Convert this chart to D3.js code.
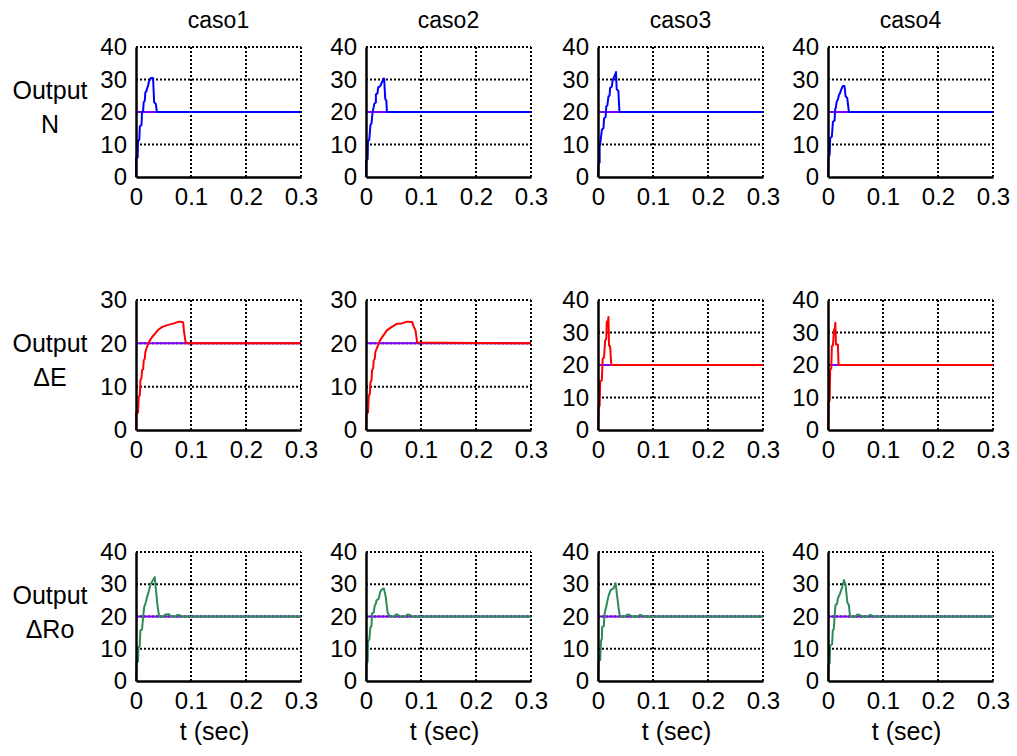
<!DOCTYPE html>
<html>
<head>
<meta charset="utf-8">
<script src="https://cdn.jsdelivr.net/npm/d3@7"></script>
<style>
  html, body { margin: 0; padding: 0; background: #fff; }
  svg { display: block; }
  text { font-family: "Liberation Sans", Arial, sans-serif; fill: #000; }
</style>
</head>
<body>
<svg id="chart" width="1017" height="756"></svg>
<script>
// ---------------- DATA ----------------
const caseTitles = ["caso1", "caso2", "caso3", "caso4"];
const rowLabels = [["Output", "N"], ["Output", "\u0394E"], ["Output", "\u0394Ro"]];
const xTicks = [0, 0.1, 0.2, 0.3];
const xTickLabels = ["0", "0.1", "0.2", "0.3"];
const yTicks40 = [0, 10, 20, 30, 40];
const yTicks30 = [0, 10, 20, 30];
const xLabel = "t (sec)";
const reference = 20;

// Output N (blue) [t, value]
const nCaso1 = [[0,0],[0,5.8],[0.003,6],[0.0036,11],[0.006,11.5],[0.007,15.6],[0.010,16],[0.011,20],[0.013,20.5],[0.014,23],[0.016,23.5],[0.017,26],[0.019,26.5],[0.0206,27.5],[0.022,28],[0.0236,29.5],[0.026,30],[0.027,30.5],[0.031,30.5],[0.033,23],[0.036,22.5],[0.038,20],[0.3,20]];
const nCaso2 = [[0,0],[0,5],[0.003,5.5],[0.0036,11],[0.006,11.5],[0.008,16],[0.010,16.5],[0.012,20],[0.014,21.5],[0.015,22.5],[0.018,23],[0.018,25.4],[0.021,25.8],[0.022,27.5],[0.026,28],[0.029,29.2],[0.032,30.3],[0.033,30.3],[0.035,24],[0.037,23.5],[0.038,20],[0.3,20]];
const nCaso3 = [[0,0],[0.001,4.3],[0.003,4.5],[0.003,9.5],[0.004,10],[0.007,14.6],[0.010,15],[0.011,18],[0.014,18.5],[0.015,21.7],[0.017,22],[0.019,24.8],[0.021,25],[0.022,27.4],[0.025,27.8],[0.027,30],[0.030,31],[0.0327,32.3],[0.034,27],[0.037,26.5],[0.039,20],[0.3,20]];
const nCaso4 = [[0,0],[0.001,6.4],[0.003,6.8],[0.004,12],[0.007,12.4],[0.009,17],[0.012,17.4],[0.013,20.7],[0.014,21.2],[0.016,23.3],[0.018,23.8],[0.020,25.3],[0.022,25.8],[0.024,26.9],[0.027,28],[0.030,28],[0.032,24.8],[0.035,24.3],[0.038,20],[0.3,20]];

// Output ΔE (red)
const eCaso1 = [[0,0],[0,3.8],[0.0037,4],[0.0049,7.7],[0.007,8],[0.008,11.5],[0.010,12],[0.011,13.8],[0.013,14],[0.014,16],[0.016,16.5],[0.017,18],[0.020,19.2],[0.024,20.4],[0.029,21.4],[0.035,22.3],[0.041,23.2],[0.048,23.8],[0.057,24.2],[0.069,24.6],[0.078,25],[0.085,24.9],[0.086,24.6],[0.087,23],[0.090,20.4],[0.092,20],[0.3,20]];
const eCaso2 = [[0,0],[0.0006,3.8],[0.0036,4],[0.005,8],[0.007,8.3],[0.008,11],[0.010,11.4],[0.011,13.8],[0.013,14.2],[0.014,16],[0.016,16.5],[0.017,18],[0.022,19.6],[0.026,20.8],[0.032,21.9],[0.038,23],[0.047,23.8],[0.056,24.5],[0.065,24.6],[0.075,25],[0.084,24.9],[0.087,23.8],[0.090,23],[0.093,20.2],[0.3,20]];
const eCaso3 = [[0,0],[0.001,7.2],[0.003,7.4],[0.004,15],[0.007,15.3],[0.0085,22],[0.011,22.3],[0.013,27.6],[0.015,28],[0.016,33.4],[0.017,32],[0.019,34.8],[0.020,26],[0.022,25.8],[0.024,20.6],[0.025,20],[0.3,20]];
const eCaso4 = [[0,0],[0.001,8.8],[0.003,9],[0.004,18.6],[0.006,19],[0.007,25.8],[0.009,26],[0.011,31],[0.012,30],[0.0134,33],[0.0145,26.3],[0.018,26.3],[0.019,20.6],[0.020,20],[0.3,20]];

// Output ΔRo (green)
const rCaso1 = [[0,0],[0.0006,5.7],[0.0037,6],[0.0043,10.4],[0.0067,10.8],[0.008,15.7],[0.011,16],[0.013,20],[0.015,23],[0.018,24.5],[0.020,26],[0.023,27.7],[0.026,29.8],[0.029,30.8],[0.034,32.2],[0.036,28.7],[0.039,23.5],[0.042,20],[0.050,20],[0.053,20.6],[0.060,20.7],[0.063,20.1],[0.072,20],[0.075,20.5],[0.080,20.4],[0.082,20],[0.3,20]];
const rCaso2 = [[0,0],[0.0006,5.7],[0.003,6],[0.0036,12.5],[0.006,12.8],[0.008,16.7],[0.010,17],[0.011,20.9],[0.014,21.3],[0.016,23.5],[0.018,24],[0.019,25],[0.023,25.5],[0.026,27.7],[0.029,28.4],[0.0325,28.7],[0.036,26],[0.039,21.4],[0.042,20.4],[0.045,20],[0.052,20],[0.054,20.6],[0.057,20.6],[0.062,20],[0.072,20],[0.075,20.6],[0.080,20.5],[0.082,20],[0.3,20]];
const rCaso3 = [[0,0],[0.001,6.3],[0.004,6.5],[0.0055,12.5],[0.007,13],[0.0075,16.7],[0.0105,17],[0.012,20.9],[0.015,23],[0.0172,25],[0.0196,26.6],[0.023,28.2],[0.028,28.7],[0.032,30.3],[0.035,26.1],[0.038,22],[0.040,20],[0.050,20],[0.053,20.6],[0.058,20.5],[0.061,20],[0.073,20],[0.076,20.5],[0.079,20.4],[0.081,20],[0.3,20]];
const rCaso4 = [[0,0],[0.001,5.2],[0.003,5.5],[0.004,11],[0.0075,11.4],[0.0087,15.7],[0.0104,16],[0.012,19.9],[0.0135,23.5],[0.0166,24],[0.018,25.6],[0.022,27.2],[0.026,29.2],[0.029,31.3],[0.032,29.8],[0.035,24.5],[0.038,23.5],[0.040,20],[0.050,20],[0.053,20.6],[0.058,20.5],[0.061,20],[0.073,20],[0.076,20.5],[0.079,20.4],[0.081,20],[0.3,20]];

const rowSeries = [
  [nCaso1, nCaso2, nCaso3, nCaso4],
  [eCaso1, eCaso2, eCaso3, eCaso4],
  [rCaso1, rCaso2, rCaso3, rCaso4]
];
const rowYMax = [[40,40,40,40],[30,30,40,40],[40,40,40,40]];
const rowColors = ["#0000ff", "#ff0000", "#2e8b57"];
const refColor = "#8000ff";

// ---------------- LAYOUT ----------------
const colLeft = [136, 366, 598, 828];
const plotW = 165;
const rowTop = [47, 300, 552];
const plotH = [130, 130, 129];
const tickFont = 24, titleFont = 23, labelFont = 25;

const svg = d3.select("#chart");

rowSeries.forEach((series, r) => {
  series.forEach((data, c) => {
    const ymax = rowYMax[r][c];
    const yTicks = ymax === 40 ? yTicks40 : yTicks30;
    const x = d3.scaleLinear().domain([0, 0.3]).range([colLeft[c], colLeft[c] + plotW]);
    const y = d3.scaleLinear().domain([0, ymax]).range([rowTop[r] + plotH[r], rowTop[r]]);
    const g = svg.append("g");

    // grid (dotted)
    g.selectAll(".vg").data(xTicks.slice(1)).enter().append("line")
      .attr("x1", d => x(d)).attr("x2", d => x(d))
      .attr("y1", y(0)).attr("y2", y(ymax))
      .attr("stroke", "#000").attr("stroke-width", 2).attr("stroke-dasharray", "2,2");
    g.selectAll(".hg").data(yTicks.slice(1)).enter().append("line")
      .attr("x1", x(0)).attr("x2", x(0.3))
      .attr("y1", d => y(d)).attr("y2", d => y(d))
      .attr("stroke", "#000").attr("stroke-width", 2).attr("stroke-dasharray", "2,2");

    // reference line
    g.append("line")
      .attr("x1", x(0)).attr("x2", x(0.3)).attr("y1", y(reference)).attr("y2", y(reference))
      .attr("stroke", refColor).attr("stroke-width", 2);

    // output trace
    const line = d3.line().x(d => x(d[0])).y(d => y(d[1]));
    g.append("path").datum(data)
      .attr("d", line).attr("fill", "none")
      .attr("stroke", rowColors[r]).attr("stroke-width", 2).attr("stroke-linejoin", "round");

    // axes
    const ax = g.append("g").attr("transform", `translate(0,${y(0)})`)
      .call(d3.axisBottom(x).tickValues(xTicks).tickFormat((d, i) => xTickLabels[i]).tickSize(0).tickPadding(11));
    const ay = g.append("g").attr("transform", `translate(${x(0)},0)`)
      .call(d3.axisLeft(y).tickValues(yTicks).tickFormat(d3.format("d")).tickSize(0).tickPadding(9));
    [ax, ay].forEach(a => {
      a.select(".domain").attr("stroke", "#000").attr("stroke-width", 2.5);
      a.selectAll("text").style("font-size", tickFont + "px")
        .style("font-family", '"Liberation Sans", Arial, sans-serif').attr("fill", "#000");
    });

    // titles
    if (r === 0) {
      g.append("text").attr("x", x(0.15)).attr("y", 28).attr("text-anchor", "middle")
        .style("font-size", titleFont + "px").text(caseTitles[c]);
    }
    if (r === 2) {
      g.append("text").attr("x", x(0.15) - 4).attr("y", 740).attr("text-anchor", "middle")
        .style("font-size", labelFont + "px").text(xLabel);
    }
  });

  // row labels
  const cy = rowTop[r] + plotH[r] / 2;
  svg.append("text").attr("x", 50).attr("y", cy - 13).attr("text-anchor", "middle")
    .style("font-size", labelFont + "px").text(rowLabels[r][0]);
  svg.append("text").attr("x", 50).attr("y", cy + 21).attr("text-anchor", "middle")
    .style("font-size", labelFont + "px").text(rowLabels[r][1]);
});
</script>
</body>
</html>
